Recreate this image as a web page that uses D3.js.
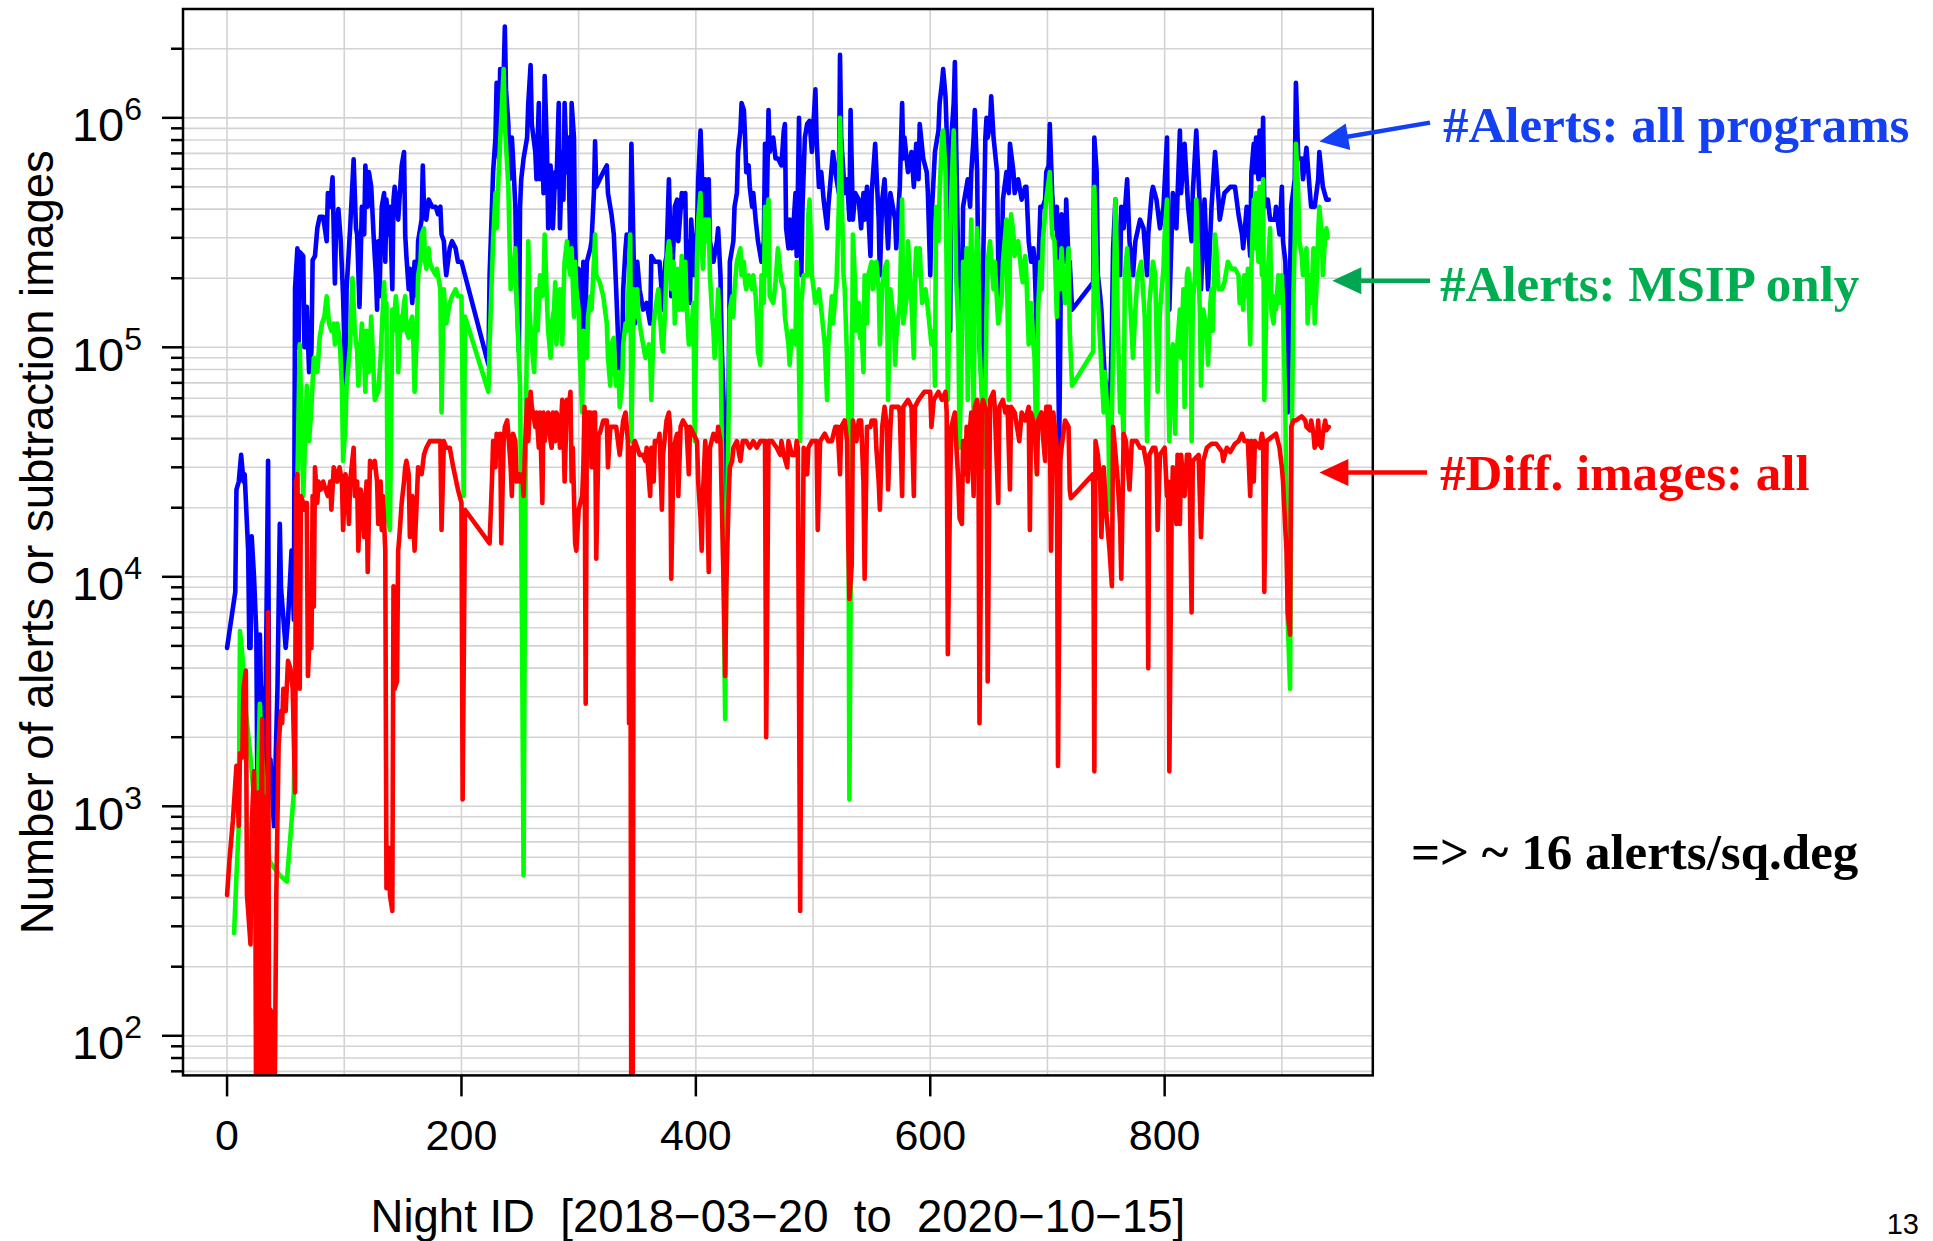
<!DOCTYPE html>
<html>
<head>
<meta charset="utf-8">
<script src="https://cdn.jsdelivr.net/npm/d3@7"></script>
<style>
  body { margin: 0; background: #fff; }
  svg text { font-family: "Liberation Sans", Arial, sans-serif; }
  .note { font-family: "Liberation Serif", "Times New Roman", serif; font-weight: bold; }
</style>
</head>
<body>
<div id="chart"></div>
<script>
// [night, count]
let alertsAll = [[0,4900],[7,8600],[8,24000],[10,26000],[12,34000],[14,26000],[15,28000],[18,13000],[19,4900],[20,4900],[21,15000],[23,10000],[25,5600],[26,820],[28,5600],[30,1700],[31,3250],[32,1000],[35,32000],[36,1150],[37,1600],[40,820],[43,3250],[45,17000],[46,9000],[50,4900],[52,6500],[55,13000],[57,6500],[58,180000],[60,270000],[61,100000],[62,260000],[65,250000],[66,100000],[68,150000],[70,78000],[72,96000],[73,240000],[75,250000],[77,330000],[79,370000],[82,370000],[85,290000],[86,470000],[88,410000],[90,550000],[92,190000],[93,330000],[95,400000],[97,290000],[99,167000],[101,68000],[102,180000],[105,330000],[108,660000],[110,330000],[111,310000],[113,150000],[115,410000],[117,310000],[118,620000],[120,410000],[121,580000],[123,500000],[125,310000],[126,250000],[127,206000],[128,146000],[129,290000],[130,167000],
[132,410000],[134,470000],[135,236000],[136,440000],[138,310000],[139,410000],[141,179000],[142,440000],[143,500000],[145,410000],[146,360000],[149,620000],[151,710000],[152,310000],[153,250000],[155,179000],[156,220000],[158,156000],[160,236000],[162,167000],[163,290000],[166,360000],[167,620000],[168,410000],[170,360000],[172,440000],[175,410000],[178,410000],[180,380000],[182,410000],[183,310000],[185,290000],[186,236000],[187,206000],[190,270000],[192,290000],[195,270000],[197,236000],[200,236000],
[223,84000],[224,206000],[226,410000],[227,580000],[229,820000],[230,1420000],[232,665000],[233,1630000],[235,940000],[237,2500000],[238,1330000],[240,940000],[241,540000],[243,820000],[244,665000],[246,410000],[247,179000],[249,96000],[250,410000],[251,540000],[253,665000],[256,820000],[257,1160000],[259,1700000],[260,940000],[263,710000],[264,540000],[266,1160000],[267,540000],[269,820000],[270,470000],[271,1520000],[273,710000],[274,330000],[276,620000],[277,470000],[278,330000],[280,580000],[281,500000],[283,1160000],[284,330000],[286,710000],[287,440000],[288,1160000],[290,580000],[291,820000],[293,250000],
[294,1160000],[296,820000],[297,290000],[298,179000],[300,220000],[301,103000],[303,68000],[304,236000],[305,103000],[307,236000],[310,270000],[311,290000],[313,470000],[314,790000],[315,500000],[318,540000],[321,580000],[324,620000],[325,470000],[328,380000],[330,310000],[332,179000],[335,73000],[337,78000],[338,179000],[340,270000],[341,310000],[344,290000],[345,770000],[347,236000],[348,127000],[350,236000],[352,179000],[355,146000],[358,156000],[361,127000],[362,250000],[365,236000],[369,236000],[372,146000],[374,236000],[375,250000],[377,540000],[378,330000],[379,167000],[381,290000],[382,410000],[384,440000],[385,290000],[388,470000],[389,410000],[391,470000],[392,220000],[394,290000],[395,156000],[396,360000],[399,206000],[401,330000],[402,540000],[404,880000],[405,620000],[406,360000],[408,540000],[409,330000],[411,540000],[412,290000],[415,236000],[418,290000],[419,330000],[421,206000],[422,103000],[424,52000],[425,9800],[426,26000],[428,68000],[429,236000],[432,290000],[433,410000],[435,470000],[436,710000],[438,880000],[439,1160000],[441,1080000],[442,820000],[443,580000],[445,620000],[446,500000],[448,410000],[449,470000],[451,360000],[453,290000],[456,236000],[458,290000],[459,770000],[460,290000],[462,1080000],
[463,710000],[466,820000],[468,665000],[470,665000],[473,620000],[475,880000],[476,940000],[477,330000],[479,270000],[480,360000],[482,270000],[485,470000],[486,250000],[487,470000],[488,1000000],[490,206000],[491,410000],[493,820000],[495,940000],[497,970000],[499,710000],[500,880000],[502,1330000],[503,820000],[505,500000],[507,580000],[509,440000],[512,330000],[513,410000],[514,470000],[517,710000],[520,540000],[522,470000],[523,1880000],[524,820000],[527,470000],[529,540000],[531,360000],[532,1080000],[534,360000],[536,470000],[539,440000],[541,330000],[543,470000],[544,360000],[546,500000],[549,250000],[550,470000],[553,770000],[556,360000],[557,206000],[559,440000],[561,540000],[564,270000],[566,470000],[570,360000],[571,270000],[574,500000],[576,1160000],[577,665000],[578,820000],[581,580000],[584,710000],[586,500000],[588,770000],[590,540000],[591,940000],[594,665000],[597,580000],[598,470000],[600,206000],[601,360000],[604,710000],[607,880000],[608,1160000],[610,1420000],[611,1630000],[613,1240000],[614,880000],[615,310000],[617,118000],[618,820000],[620,1160000],[621,1750000],[622,820000],[624,206000],[625,118000],
[627,118000],[628,410000],[630,470000],[632,540000],[634,410000],[635,580000],[637,820000],[638,1080000],[640,580000],[641,206000],[642,103000],[644,68000],[645,206000],[647,820000],[648,1000000],[649,820000],[651,940000],[652,1240000],[654,820000],[657,580000],[658,236000],[659,167000],[661,236000],[662,440000],[665,580000],[667,470000],[668,770000],[671,580000],[672,470000],[675,540000],[678,440000],[681,500000],[682,500000],[684,290000],[686,236000],[688,270000],[689,236000],[691,110000],[692,206000],[694,410000],[696,410000],[698,440000],[699,580000],[701,620000],[702,940000],[704,470000],[706,330000],[708,410000],[709,103000],[710,36500],[712,380000],[715,236000],[716,440000],[718,236000],[719,236000],[721,146000],
[739,192000],[740,820000],[742,580000],[743,206000],[745,167000],[746,146000],[748,90000],[749,73000],[752,64000],[753,45000],[755,118000],[756,270000],[758,440000],[759,290000],[762,206000],[763,410000],[765,330000],[768,540000],[770,290000],[773,206000],[775,290000],[779,360000],[782,330000],[785,206000],[786,310000],[789,470000],[790,500000],
[793,440000],[796,330000],[799,410000],[802,820000],[803,206000],[804,146000],[807,470000],[810,330000],[813,880000],[814,470000],[817,770000],[820,410000],[823,290000],[824,470000],[827,880000],[830,410000],[831,179000],[834,440000],[837,179000],[840,410000],[843,710000],[846,440000],[847,360000],[851,470000],[856,500000],[860,500000],[863,380000],[866,310000],[867,270000],[870,410000],[873,250000],[874,580000],[876,770000],[877,580000],[878,820000],[880,540000],[881,880000],[883,540000],[884,1000000],[885,410000],[888,440000],[890,360000],[894,360000],[895,410000],[898,310000],[900,500000],[901,290000],[903,236000],[904,118000],[905,52000],[908,410000],[911,540000],[912,1420000],[914,665000],[917,665000],[918,540000],[921,740000],[924,470000],[925,410000],[928,410000],[931,540000],[932,710000],[935,500000],[938,440000],[940,440000]];

let alertsMsip = [[6,280],[8,500],[10,820],[11,5800],[13,4600],[16,2600],[20,1630],[24,940],[26,1150],[28,2800],[30,1630],[33,1000],[36,580],[40,540],[45,500],[51,470],[57,1150],[58,3250],[60,26000],[61,52000],[62,103000],[64,36500],[65,22500],[67,45000],[68,68000],[70,39000],[72,55000],[74,90000],[77,78000],[79,110000],[81,127000],[83,136000],[85,167000],[87,127000],[89,118000],[91,127000],[92,103000],[94,127000],[96,110000],[98,68000],[99,32000],[101,45000],[102,68000],[105,103000],[106,146000],[107,200000],[109,118000],[111,96000],[112,68000],[114,103000],[115,127000],[117,90000],[118,64000],[119,118000],[121,78000],[123,136000],[124,103000],[126,59000],[129,64000],
[131,90000],[132,118000],[134,192000],[135,136000],[136,156000],[137,18000],[139,16000],[141,146000],[142,118000],[144,167000],[145,146000],[146,78000],[148,136000],[149,118000],[151,156000],[152,167000],[153,118000],[155,110000],[156,127000],[158,136000],[159,103000],[160,64000],[162,118000],[163,206000],[165,236000],[166,310000],[168,330000],[169,236000],[170,220000],[172,270000],[173,236000],[175,220000],[178,206000],[179,220000],[180,206000],[182,179000],[183,52000],[185,179000],[186,146000],[187,127000],[190,156000],[192,167000],[195,179000],[197,167000],[200,167000],[202,22500],[203,136000],
[223,64000],[224,103000],[226,206000],[227,290000],[229,470000],[230,330000],[232,620000],[234,1000000],[236,1630000],[237,940000],[240,500000],[241,290000],[242,179000],[244,206000],[246,270000],[247,167000],[249,90000],[250,68000],[251,17000],[252,3250],[253,500],[254,6500],[255,52000],[257,290000],[258,146000],[260,103000],[262,78000],[264,179000],[265,118000],[267,206000],[269,167000],[270,179000],[271,310000],[273,156000],[274,118000],[276,90000],[277,127000],[279,146000],[280,192000],[281,103000],[283,167000],[284,179000],[286,103000],[287,167000],[288,236000],[290,290000],[291,236000],[293,206000],
[294,270000],[296,136000],[297,236000],[298,179000],[300,146000],[301,90000],[303,52000],[304,118000],[307,90000],[308,136000],[310,167000],[311,146000],[313,236000],[314,310000],[315,206000],[318,192000],[321,167000],[324,127000],[325,90000],[327,68000],[328,103000],[330,110000],[331,78000],[332,68000],[334,78000],[335,55000],[337,68000],[338,103000],[340,127000],[341,118000],[342,146000],[344,310000],[345,39000],[347,179000],[348,136000],[350,179000],[351,136000],[354,110000],[357,90000],[360,103000],[361,90000],[362,59000],[364,127000],[367,167000],[368,179000],[371,103000],[372,96000],[374,156000],[375,236000],[377,290000],[378,270000],[379,179000],[381,236000],[382,127000],[384,220000],[385,167000],[386,146000],[388,250000],[389,146000],[391,236000],[392,156000],[394,103000],[395,103000],[396,118000],[398,156000],[399,39000],[401,250000],[402,360000],[404,470000],[405,290000],[406,220000],[408,360000],[409,290000],[411,360000],[412,206000],[414,136000],[415,118000],[416,90000],[418,127000],[419,179000],[421,103000],[422,45000],[424,6500],[425,2400],[426,11300],[428,52000],[429,146000],[431,167000],[432,136000],[433,179000],[435,236000],[438,270000],[439,206000],[441,236000],[442,192000],[443,179000],[445,206000],[448,179000],[449,206000],[451,167000],[452,136000],[453,96000],[455,84000],[456,206000],[458,156000],[459,410000],
[460,206000],[462,440000],[463,167000],[466,156000],[468,192000],[470,270000],[473,192000],[475,179000],[476,136000],[479,103000],[480,84000],[482,118000],[485,103000],[486,236000],[487,167000],[489,39000],[490,156000],[492,206000],[495,206000],[496,380000],[497,440000],[499,206000],[502,156000],[505,179000],[507,146000],[510,103000],[512,59000],[513,103000],[516,167000],[517,127000],[520,192000],[522,410000],[523,1000000],[524,580000],[526,206000],[527,179000],[529,90000],[530,52000],[531,1070],[533,52000],[534,310000],[536,179000],[537,118000],[539,156000],[540,110000],[541,136000],[543,78000],[544,206000],[546,127000],[547,206000],[550,236000],[551,179000],[554,236000],[556,179000],[557,103000],[559,179000],[561,220000],[563,236000],[564,59000],[566,179000],[569,127000],[570,84000],[571,110000],[574,156000],[576,440000],[577,127000],[580,167000],[581,290000],[584,156000],[586,90000],[587,206000],[588,270000],[590,206000],[591,270000],[593,156000],[596,179000],[598,146000],[601,103000],[603,118000],[604,68000],[605,410000],[607,290000],[608,470000],[610,820000],[611,880000],[613,580000],[614,206000],[615,59000],[617,290000],[618,470000],[620,880000],[621,500000],[622,206000],[624,118000],[625,36500],
[627,103000],[628,236000],[630,156000],[631,270000],[632,59000],[634,206000],[635,360000],[637,52000],[638,156000],[640,330000],[641,250000],[642,103000],[644,59000],[645,30000],[647,59000],[648,146000],[649,236000],[651,290000],[654,179000],[655,236000],[657,156000],[658,127000],[661,167000],[662,236000],[664,310000],[665,360000],[667,59000],[668,290000],[669,380000],[671,310000],[672,250000],[675,290000],[678,206000],[679,192000],[681,250000],[682,206000],[684,103000],[685,127000],[686,156000],[688,103000],[689,90000],[691,28000],[692,146000],[694,236000],[695,179000],[696,290000],[699,440000],[702,580000],[704,310000],[706,290000],[708,136000],[709,236000],[711,179000],[712,270000],[715,156000],[718,270000],[719,118000],[721,68000],
[739,96000],[740,500000],[742,206000],[745,103000],[748,52000],[749,78000],[752,45000],[753,19600],[755,52000],[756,103000],[758,440000],[759,270000],[760,127000],[762,52000],[763,78000],[765,39000],[766,206000],[768,270000],[770,179000],[773,90000],[775,146000],[777,206000],[780,236000],[783,136000],[785,39000],[786,64000],[787,156000],[790,236000],
[792,206000],[794,64000],[796,146000],[799,220000],[800,310000],[802,440000],[803,68000],[804,39000],[806,90000],[807,103000],[809,42000],[810,90000],[813,146000],[814,90000],[816,179000],[817,55000],[819,206000],[820,220000],[822,179000],[823,39000],[824,156000],[826,206000],[827,440000],[829,206000],[830,146000],[831,68000],[833,146000],[836,118000],[837,84000],[839,156000],[840,179000],[841,118000],[843,310000],[844,270000],[846,179000],[849,179000],[851,192000],[854,236000],[857,220000],[860,220000],[863,206000],[864,156000],[866,179000],[867,146000],[868,206000],[870,167000],[871,220000],[873,103000],[874,220000],[876,440000],[877,270000],[878,470000],[880,236000],[881,500000],[883,206000],[884,540000],[885,59000],[887,167000],[888,206000],[890,330000],[891,146000],[893,127000],[894,167000],[895,146000],[897,206000],[898,156000],[900,206000],[901,156000],[903,52000],[904,18000],[905,6500],[907,3250],[908,26000],[910,179000],[911,290000],[912,770000],[914,470000],[915,290000],[917,250000],[918,206000],[920,236000],[921,270000],[922,127000],[924,206000],[925,156000],[927,270000],[928,127000],[930,206000],[931,310000],[932,410000],[934,310000],[935,206000],[937,310000],[938,330000],[939,300000]];

let diffImages = [[0,410],[2,580],[5,870],[8,1500],[10,820],[11,1700],[13,1630],[14,3250],[16,3900],[17,410],[18,350],[20,250],[21,820],[23,1420],[24,760],[25,20],[26,600],[27,1150],[28,20],[29,900],[30,2400],[31,20],[32,1100],[33,820],[34,20],[35,7000],[36,20],[37,130],[38,125],[39,20],[40,20],[42,410],[44,1850],[46,2600],[47,2300],[48,3250],[50,2600],[52,4300],[54,4000],[56,3250],[58,1150],[59,26000],[60,28000],[62,3250],[63,22500],[65,21000],[66,19600],[68,21000],[69,3700],[71,6500],[72,4900],[73,22500],[74,7400],[75,30000],[77,21000],[78,26000],[80,24000],[82,26000],[84,24000],[86,22500],[88,26000],[89,19600],[91,30000],[93,28000],[94,26000],[96,30000],[98,26000],[99,16000],[101,28000],[102,26000],[104,17000],[105,26000],[108,36500],[109,22500],[111,26000],[112,13000],[114,24000],[115,22500],[117,14900],[119,26000],[120,10500],[122,32000],[124,30000],[126,32000],[128,26000],[129,17000],[131,26000],[132,16000],[133,22500],[135,13000],[136,440],[138,660],[139,410],[141,350],[142,9100],[143,3250],[145,3500],[146,13000],[147,14900],[149,21000],[151,26000],[152,30000],[153,32000],[155,28000],[156,14900],[158,22500],[159,17000],[160,13000],[162,22500],[163,30000],[166,28000],[168,34000],[170,36500],[173,39000],[176,39000],[179,39000],[182,39000],[183,16000],[185,39000],[187,36500],[190,36500],[193,30000],[197,24000],[200,21000],[201,1070],[203,19600],
[224,14000],[226,26000],[227,39000],[229,30000],[230,42000],[232,39000],[233,42000],[234,14000],[236,39000],[237,45000],[239,48000],[240,42000],[242,30000],[243,22500],[244,42000],[246,39000],[247,26000],[249,28000],[250,26000],[252,28000],[253,22500],[254,34000],[256,59000],[257,39000],[259,64000],[260,55000],[261,52000],[263,45000],[264,52000],[266,36500],[267,52000],[269,21000],[270,52000],[271,39000],[273,48000],[274,52000],[276,39000],[277,36500],[278,52000],[280,39000],[281,52000],[283,48000],[284,36500],[286,59000],[287,45000],[288,26000],[290,59000],[291,52000],[293,64000],
[294,26000],[295,36500],[297,14000],[298,13000],[300,19600],[303,22500],[304,30000],[305,55000],[306,2800],[307,52000],[310,52000],[311,30000],[313,52000],[314,52000],[315,12000],[317,42000],[318,42000],[321,48000],[324,48000],[325,30000],[327,45000],[330,45000],[332,45000],[335,34000],[338,48000],[340,52000],[342,39000],[343,2300],[344,36500],[345,20],[346,20],[347,38000],[348,39000],[350,36500],[352,34000],[355,34000],[357,32000],[358,36500],[361,22500],[362,36500],[364,26000],[365,39000],[368,39000],[369,42000],[371,19600],[372,34000],[375,48000],[377,52000],[378,45000],[379,9800],[381,36500],[384,42000],[385,22500],[387,45000],[389,48000],[392,45000],[394,28000],[395,45000],[398,42000],[401,39000],[402,26000],[404,18000],[405,13000],[406,22500],[408,39000],[409,32000],[411,10500],[412,36500],[415,42000],[418,39000],[419,45000],[421,39000],[422,22500],[424,8000],[425,3700],[426,9100],[428,22500],[429,30000],[431,32000],[432,36500],[435,39000],[438,32000],[440,39000],[443,39000],[446,36500],[449,39000],[452,36500],[455,39000],[459,39000],[460,2000],[462,39000],[465,39000],[469,36500],[472,34000],[473,39000],[475,34000],[478,30000],[479,39000],[482,34000],[485,34000],[486,39000],[487,36500],[489,350],[490,3250],[492,36500],[495,28000],[496,36500],[499,39000],[503,39000],[504,16000],[506,39000],[510,42000],[513,39000],[516,39000],[519,45000],[521,45000],[523,28000],[524,45000],[527,48000],[529,39000],[530,14900],[531,8000],[533,11300],[534,48000],[537,39000],[539,48000],[541,48000],[543,26000],[544,9800],[546,45000],[549,45000],[550,48000],[553,48000],[554,36500],[556,26000],[557,19600],[559,45000],[561,55000],[563,45000],[564,24000],[566,45000],[567,55000],[573,55000],[574,52000],[576,22500],[577,55000],[581,59000],[584,55000],[586,22500],[587,55000],[590,59000],[595,64000],[600,64000],[601,45000],[603,59000],[607,64000],[610,59000],[613,64000],[614,52000],[615,4600],[617,26000],[618,45000],[621,52000],[622,39000],[624,26000],[625,18000],
[627,17000],[628,39000],[630,28000],[631,45000],[632,26000],[634,45000],[635,52000],[637,22500],[638,55000],[640,59000],[641,52000],[642,2300],[643,8600],[644,55000],[645,59000],[648,52000],[649,3500],[651,59000],[654,64000],[655,55000],[658,21000],[659,55000],[662,59000],[664,52000],[666,55000],[668,24000],[669,55000],[672,52000],[674,45000],[676,39000],[678,52000],[681,48000],[684,55000],[685,16000],[686,52000],[689,45000],[691,28000],[692,48000],[695,52000],[696,42000],[698,32000],[699,55000],[702,55000],[703,13000],[705,52000],[708,36500],[709,1500],[711,32000],[712,36500],[715,48000],[718,45000],[719,24000],[720,22000],
[739,28000],[740,1420],[741,39000],[743,34000],[745,26000],[746,14900],[748,30000],[750,19600],[753,13000],[755,9100],[756,45000],[759,30000],[760,26000],[762,17000],[763,9800],[765,42000],[767,39000],[770,24000],[772,39000],[776,39000],[779,36500],[782,36500],[785,30000],[786,4000],[787,34000],[790,36500],
[792,36500],[793,34000],[794,16000],[796,34000],[800,36500],[802,22500],[803,26000],[804,1420],[806,19600],[807,30000],[809,22500],[810,17000],[811,34000],[813,17000],[814,34000],[817,22500],[819,34000],[821,34000],[823,7000],[824,32000],[829,34000],[831,14900],[833,32000],[836,36500],[840,38000],[844,38000],[849,35000],[850,32000],[853,36500],[856,35000],[860,38000],[863,39000],[866,42000],[868,39000],[871,39000],[873,22500],[874,39000],[876,26000],[877,39000],[881,36500],[883,42000],[884,39000],[885,8600],[887,39000],[891,40500],[895,42000],[898,36500],[900,30000],[901,26000],[903,16000],[904,13000],[905,7000],[907,5600],[908,45000],[910,48000],[912,48000],[917,50000],[920,48000],[921,45000],[924,43500],[925,48000],[927,42000],[928,36500],[930,39000],[931,48000],[932,38000],[934,36500],[935,42000],[937,48000],[938,43500],[940,45000]];

let seriesColors = ["#0000ff", "#00ff00", "#ff0000"];
let xTickValues = [0, 200, 400, 600, 800];
let xGridValues = [0, 100, 200, 300, 400, 500, 600, 700, 800, 900];
let yLabelPowers = [2, 3, 4, 5, 6];

let notes = [
  {text: "#Alerts: all programs", color: "#1440f5", x: 1443, y: 142},
  {text: "#Alerts: MSIP only", color: "#00ad50", x: 1440, y: 301},
  {text: "#Diff. images: all", color: "#ff0000", x: 1440, y: 490},
  {text: "=> ~ 16 alerts/sq.deg", color: "#000000", x: 1411, y: 869}
];

let width = 1933;
let height = 1241;
let plot = {left: 183, right: 1372.8, top: 9, bottom: 1075.4};

let x = d3.scaleLinear().domain([-37.6, 977.6]).range([plot.left, plot.right]);
let y = d3.scaleLog().domain([67.2, 2.98e6]).range([plot.bottom, plot.top]);

let svg = d3
  .select("#chart")
  .append("svg")
  .attr("width", width)
  .attr("height", height)
  .style("background", "#fff");

svg.append("defs")
  .append("clipPath")
  .attr("id", "plotclip")
  .append("rect")
  .attr("x", plot.left)
  .attr("y", plot.top)
  .attr("width", plot.right - plot.left)
  .attr("height", plot.bottom - plot.top);

// grid
let yTicks = y.ticks().filter(v => v >= y.domain()[0] && v <= y.domain()[1]);
svg.append("g")
  .selectAll("line")
  .data(yTicks)
  .join("line")
  .attr("x1", plot.left)
  .attr("x2", plot.right)
  .attr("y1", d => y(d))
  .attr("y2", d => y(d))
  .attr("stroke", "#d3d3d3")
  .attr("stroke-width", 1.6);

svg.append("g")
  .selectAll("line")
  .data(xGridValues)
  .join("line")
  .attr("x1", d => x(d))
  .attr("x2", d => x(d))
  .attr("y1", plot.top)
  .attr("y2", plot.bottom)
  .attr("stroke", "#d3d3d3")
  .attr("stroke-width", 1.6);

// series, drawn blue -> green -> red
let line = d3.line().x(d => x(d[0])).y(d => y(d[1]));
let lines = svg.append("g").attr("clip-path", "url(#plotclip)");
[alertsAll, alertsMsip, diffImages].forEach((s, i) => {
  lines.append("path")
    .datum(s)
    .attr("d", line)
    .attr("fill", "none")
    .attr("stroke", seriesColors[i])
    .attr("stroke-width", 4.6)
    .attr("stroke-linejoin", "round")
    .attr("stroke-linecap", "round");
});

// box
svg.append("rect")
  .attr("x", plot.left)
  .attr("y", plot.top)
  .attr("width", plot.right - plot.left)
  .attr("height", plot.bottom - plot.top)
  .attr("fill", "none")
  .attr("stroke", "#000")
  .attr("stroke-width", 2.5);

// y ticks
svg.append("g")
  .selectAll("line")
  .data(yTicks)
  .join("line")
  .attr("x1", d => plot.left - (Number.isInteger(Math.log10(d)) ? 21 : 12))
  .attr("x2", plot.left)
  .attr("y1", d => y(d))
  .attr("y2", d => y(d))
  .attr("stroke", "#000")
  .attr("stroke-width", 2.5);

let ylab = svg.append("g")
  .selectAll("text")
  .data(yLabelPowers)
  .join("text")
  .attr("x", 142)
  .attr("y", d => y(Math.pow(10, d)) + 23.5)
  .attr("text-anchor", "end")
  .attr("fill", "#000");
ylab.append("tspan").attr("font-size", 47).text("10");
ylab.append("tspan")
  .attr("font-size", 32)
  .attr("dy", -21)
  .text(d => d);

// x ticks
svg.append("g")
  .selectAll("line")
  .data(xTickValues)
  .join("line")
  .attr("x1", d => x(d))
  .attr("x2", d => x(d))
  .attr("y1", plot.bottom)
  .attr("y2", plot.bottom + 21)
  .attr("stroke", "#000")
  .attr("stroke-width", 2.5);

svg.append("g")
  .selectAll("text")
  .data(xTickValues)
  .join("text")
  .attr("x", d => x(d))
  .attr("y", 1150)
  .attr("text-anchor", "middle")
  .attr("font-size", 43)
  .text(d => d);

// axis titles
svg.append("text")
  .attr("x", (plot.left + plot.right) / 2)
  .attr("y", 1232)
  .attr("text-anchor", "middle")
  .attr("font-size", 45.5)
  .attr("xml:space", "preserve")
  .style("white-space", "pre")
  .text("Night ID  [2018\u221203\u221220  to  2020\u221210\u221215]");

svg.append("text")
  .attr("transform", `translate(53,${(plot.top + plot.bottom) / 2}) rotate(-90)`)
  .attr("text-anchor", "middle")
  .attr("font-size", 45.5)
  .text("Number of alerts or subtraction images");

// annotations
svg.append("g")
  .selectAll("text")
  .data(notes)
  .join("text")
  .attr("class", "note")
  .attr("x", d => d.x)
  .attr("y", d => d.y)
  .attr("font-size", 51)
  .attr("fill", d => d.color)
  .text(d => d.text);

let arrows = [
  {x1: 1430, y1: 122.6, x2: 1319.4, y2: 141.6, color: "#1440f5"},
  {x1: 1430, y1: 280.7, x2: 1332.3, y2: 280.7, color: "#00a651"},
  {x1: 1427, y1: 472.5, x2: 1319.4, y2: 472.5, color: "#ff0000"}
];
arrows.forEach(a => {
  let ang = Math.atan2(a.y2 - a.y1, a.x2 - a.x1);
  let len = 29, half = 13.5;
  let bx = a.x2 - len * Math.cos(ang), by = a.y2 - len * Math.sin(ang);
  svg.append("line")
    .attr("x1", a.x1).attr("y1", a.y1)
    .attr("x2", bx + 2 * Math.cos(ang)).attr("y2", by + 2 * Math.sin(ang))
    .attr("stroke", a.color)
    .attr("stroke-width", 4.5);
  svg.append("polygon")
    .attr("points", [
      [a.x2, a.y2],
      [bx - half * Math.sin(ang), by + half * Math.cos(ang)],
      [bx + half * Math.sin(ang), by - half * Math.cos(ang)]
    ].map(p => p.join(",")).join(" "))
    .attr("fill", a.color);
});

svg.append("text")
  .attr("x", 1919)
  .attr("y", 1234)
  .attr("text-anchor", "end")
  .attr("font-size", 29)
  .text("13");
</script>
</body>
</html>
